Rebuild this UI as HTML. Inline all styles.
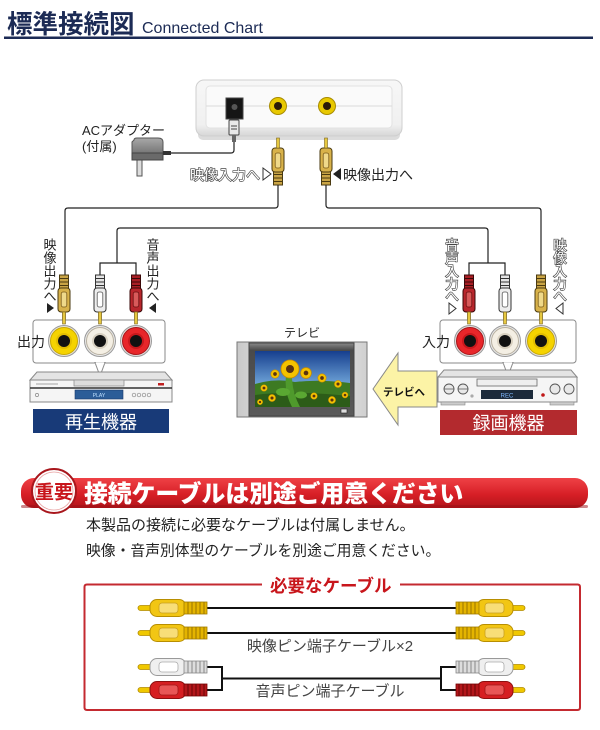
<!DOCTYPE html>
<html><head><meta charset="utf-8">
<style>
html,body{margin:0;padding:0;background:#fff;}
svg{display:block;}
text{font-family:"Liberation Sans","Noto Sans CJK JP",sans-serif;}
.o{fill:#fff;stroke:#444;stroke-width:1.3px;paint-order:stroke;}
</style></head><body>
<svg width="600" height="730" viewBox="0 0 600 730" xmlns="http://www.w3.org/2000/svg">
<defs>
 <linearGradient id="ban" x1="0" y1="0" x2="0" y2="1">
  <stop offset="0" stop-color="#ef4146"/><stop offset="0.55" stop-color="#d71f26"/><stop offset="1" stop-color="#b3141a"/>
 </linearGradient>
 <linearGradient id="sky" x1="0" y1="0" x2="0" y2="1">
  <stop offset="0" stop-color="#163f8e"/><stop offset="0.6" stop-color="#6fa4d8"/><stop offset="1" stop-color="#9cc3e6"/>
 </linearGradient>
 <linearGradient id="tvs" x1="0" y1="0" x2="1" y2="0">
  <stop offset="0" stop-color="#c9c9c9"/><stop offset="0.5" stop-color="#f2f2f2"/><stop offset="1" stop-color="#d0d0d0"/>
 </linearGradient>
 <linearGradient id="bez" x1="0" y1="0" x2="0" y2="1">
  <stop offset="0" stop-color="#8a8a8a"/><stop offset="0.1" stop-color="#4a4a4a"/><stop offset="1" stop-color="#5a5a5a"/>
 </linearGradient>
 <linearGradient id="box" x1="0" y1="0" x2="0" y2="1">
  <stop offset="0" stop-color="#f7f7f7"/><stop offset="0.8" stop-color="#f0f0f0"/><stop offset="1" stop-color="#d6d6d6"/>
 </linearGradient>
 <linearGradient id="adp" x1="0" y1="0" x2="0" y2="1">
  <stop offset="0" stop-color="#a8a8a8"/><stop offset="0.6" stop-color="#7d7d7d"/><stop offset="1" stop-color="#5a5a5a"/>
 </linearGradient>

 <g id="dpY">
  <rect x="-4.5" y="0" width="9" height="14" fill="#c9a445" stroke="#4a3a10"/>
  <path d="M-4.5 3.5h9M-4.5 7h9M-4.5 10.5h9" stroke="#4a3a10"/>
  <rect x="-6" y="13" width="12" height="24" rx="3" fill="#d8b24a" stroke="#4a3a10"/>
  <rect x="-2.8" y="17" width="5.6" height="15" rx="2" fill="#efd98a" stroke="#7a5a18" stroke-width="0.8"/>
  <rect x="-1.5" y="37" width="3" height="10" fill="#e6c840" stroke="#7a6420" stroke-width="0.6"/>
 </g>
 <g id="dpW">
  <rect x="-4.5" y="0" width="9" height="14" fill="#e4e4e4" stroke="#333"/>
  <path d="M-4.5 3.5h9M-4.5 7h9M-4.5 10.5h9" stroke="#333"/>
  <rect x="-6" y="13" width="12" height="24" rx="3" fill="#ededed" stroke="#333"/>
  <rect x="-2.8" y="17" width="5.6" height="15" rx="2" fill="#fff" stroke="#555" stroke-width="0.8"/>
  <rect x="-1.5" y="37" width="3" height="10" fill="#e6c840" stroke="#7a6420" stroke-width="0.6"/>
 </g>
 <g id="dpR">
  <rect x="-4.5" y="0" width="9" height="14" fill="#a81e24" stroke="#3a0808"/>
  <path d="M-4.5 3.5h9M-4.5 7h9M-4.5 10.5h9" stroke="#3a0808"/>
  <rect x="-6" y="13" width="12" height="24" rx="3" fill="#b8262c" stroke="#3a0808"/>
  <rect x="-2.8" y="17" width="5.6" height="15" rx="2" fill="#d85a5a" stroke="#6a1010" stroke-width="0.8"/>
  <rect x="-1.5" y="37" width="3" height="10" fill="#e6c840" stroke="#7a6420" stroke-width="0.6"/>
 </g>

 <g id="jY">
  <circle r="15.5" fill="#e6e2d6" stroke="#9a9a9a"/>
  <circle r="13.5" fill="#f5d300" stroke="#c9a800"/>
  <circle r="8" fill="#e2bd00"/>
  <circle r="6" fill="#111"/>
 </g>
 <g id="jW">
  <circle r="15.5" fill="#e8e8e8" stroke="#9a9a9a"/>
  <circle r="13.5" fill="#f4efe4" stroke="#b8b0a0"/>
  <circle r="8" fill="#d8d0c0"/>
  <circle r="6" fill="#111"/>
 </g>
 <g id="jR">
  <circle r="15.5" fill="#e2dcdc" stroke="#9a9a9a"/>
  <circle r="13.5" fill="#e8262a" stroke="#a81418"/>
  <circle r="8" fill="#c8181c"/>
  <circle r="6" fill="#111"/>
 </g>

 <g id="cpY">
  <rect x="0" y="-2.5" width="15" height="5" rx="2.5" fill="#f0c800" stroke="#b08a00" stroke-width="0.8"/>
  <rect x="12" y="-8.5" width="36" height="17" rx="7" fill="#f2c614" stroke="#b88e00"/>
  <rect x="21" y="-5" width="19" height="10" rx="3" fill="#f8de78" stroke="#c9a020" stroke-width="0.8"/>
  <rect x="46" y="-6" width="23" height="12" fill="#e4b400" stroke="#a07c00" stroke-width="0.8"/>
  <path d="M50 -6v12M54 -6v12M58 -6v12M62 -6v12M66 -6v12" stroke="#9a7400" stroke-width="1"/>
 </g>
 <g id="cpW">
  <rect x="0" y="-2.5" width="15" height="5" rx="2.5" fill="#f0c800" stroke="#b08a00" stroke-width="0.8"/>
  <rect x="12" y="-8.5" width="36" height="17" rx="7" fill="#efefef" stroke="#999"/>
  <rect x="21" y="-5" width="19" height="10" rx="3" fill="#fff" stroke="#aaa" stroke-width="0.8"/>
  <rect x="46" y="-6" width="23" height="12" fill="#ddd" stroke="#888" stroke-width="0.8"/>
  <path d="M50 -6v12M54 -6v12M58 -6v12M62 -6v12M66 -6v12" stroke="#888" stroke-width="1"/>
 </g>
 <g id="cpR">
  <rect x="0" y="-2.5" width="15" height="5" rx="2.5" fill="#f0c800" stroke="#b08a00" stroke-width="0.8"/>
  <rect x="12" y="-8.5" width="36" height="17" rx="7" fill="#d61f22" stroke="#8c1010"/>
  <rect x="21" y="-5" width="19" height="10" rx="3" fill="#e85656" stroke="#a01818" stroke-width="0.8"/>
  <rect x="46" y="-6" width="23" height="12" fill="#b3171b" stroke="#700" stroke-width="0.8"/>
  <path d="M50 -6v12M54 -6v12M58 -6v12M62 -6v12M66 -6v12" stroke="#6a0606" stroke-width="1"/>
 </g>
 <g id="sf">
  <circle r="6" fill="#f4c200" stroke="#c98a00" stroke-width="0.8"/>
  <circle r="2.6" fill="#5a3210"/>
 </g>
</defs>

<text x="7" y="33" font-size="25.5" font-weight="700" fill="#1c2b55">標準接続図</text>
<text x="142" y="33" font-size="16" fill="#1c2b55">Connected Chart</text>
<rect x="4" y="36.5" width="589" height="2.5" fill="#1c2b55"/>

<rect x="198" y="128" width="202" height="12" rx="5" fill="#dcdcdc"/>
<rect x="196" y="80" width="206" height="56" rx="8" fill="url(#box)" stroke="#cfcfcf"/>
<rect x="206" y="86" width="186" height="42" rx="4" fill="#fafafa" stroke="#e2e2e2"/>
<line x1="206" y1="106" x2="392" y2="106" stroke="#dadada"/>
<rect x="226" y="98" width="17" height="21" fill="#151515" stroke="#444"/>
<circle cx="234.5" cy="107" r="3" fill="#555"/>
<circle cx="278" cy="106" r="8.5" fill="#e8c800" stroke="#a88c00"/>
<circle cx="278" cy="106" r="4" fill="#2a1a08"/>
<circle cx="327" cy="106" r="8.5" fill="#e8c800" stroke="#a88c00"/>
<circle cx="327" cy="106" r="4" fill="#2a1a08"/>
<rect x="229" y="120" width="10" height="15" rx="1" fill="#e8e8e8" stroke="#444"/>
<path d="M231 126h6M231 129h6" stroke="#444"/>
<rect x="232" y="135" width="4" height="7" fill="#666"/>
<path d="M234 142 V150 Q234 153 231 153 H168" fill="none" stroke="#222" stroke-width="1.2"/>
<rect x="137" y="158" width="5" height="18" fill="#ddd" stroke="#555"/>
<path d="M134 140 Q134 138 137 138 H158 Q163 138 163 142 V160 H132 V142 Z" fill="url(#adp)" stroke="#555"/>
<rect x="132" y="153" width="31" height="7" fill="#6a6a6a" stroke="#444"/>
<rect x="163" y="151" width="8" height="4" fill="#333"/>
<text x="82" y="135" font-size="13" fill="#222">ACアダプター</text>
<text x="82" y="151" font-size="13" fill="#222">(付属)</text>

<use href="#dpY" transform="translate(278,185) scale(1,-1)"/>
<use href="#dpY" transform="translate(326,185) scale(1,-1)"/>
<text x="190" y="180" font-size="14" class="o">映像入力へ</text>
<polygon points="263,168 271,174 263,180" fill="#fff" stroke="#333"/>
<polygon points="341,168 333,174 341,180" fill="#222"/>
<text x="343" y="180" font-size="14" fill="#222">映像出力へ</text>

<g fill="none" stroke="#222" stroke-width="1.2">
 <path d="M278 185 V205 Q278 208 275 208 H68 Q65 208 65 211 V275"/>
 <path d="M326 185 V205 Q326 208 329 208 H538 Q541 208 541 211 V275"/>
 <path d="M100 275 V263 H136 V275"/>
 <path d="M117 263 V231 Q117 228 120 228 H485 Q488 228 488 231 V263"/>
 <path d="M469 275 V263 H505 V275"/>
</g>

<use href="#dpY" transform="translate(64,275)"/>
<use href="#dpW" transform="translate(100,275)"/>
<use href="#dpR" transform="translate(136,275)"/>
<use href="#dpR" transform="translate(469,275)"/>
<use href="#dpW" transform="translate(505,275)"/>
<use href="#dpY" transform="translate(541,275)"/>

<g font-size="13" fill="#222" text-anchor="middle">
 <text x="50" y="249.5">映</text><text x="50" y="262.5">像</text><text x="50" y="275.5">出</text><text x="50" y="288.5">力</text><text x="50" y="301">へ</text>
 <text x="153" y="249.5">音</text><text x="153" y="262.5">声</text><text x="153" y="275.5">出</text><text x="153" y="288.5">力</text><text x="153" y="301">へ</text>
</g>
<polygon points="47,303 54,308 47,313" fill="#222"/>
<polygon points="156,303 149,308 156,313" fill="#222"/>
<g font-size="13.5" text-anchor="middle">
 <text x="452" y="250" class="o">音</text><text x="452" y="263" class="o">声</text><text x="452" y="276" class="o">入</text><text x="452" y="289" class="o">力</text><text x="452" y="301" class="o">へ</text>
 <text x="560" y="250" class="o">映</text><text x="560" y="263" class="o">像</text><text x="560" y="276" class="o">入</text><text x="560" y="289" class="o">力</text><text x="560" y="301" class="o">へ</text>
</g>
<polygon points="449,303 456,308.5 449,314" fill="#fff" stroke="#333"/>
<polygon points="563,303 556,308.5 563,314" fill="#fff" stroke="#333"/>

<rect x="33" y="320" width="132" height="43" rx="3" fill="#fff" stroke="#8a8a8a"/>
<polygon points="95,362.5 100,376 105,362.5" fill="#fff" stroke="#8a8a8a"/>
<line x1="95.8" y1="363" x2="104.2" y2="363" stroke="#fff" stroke-width="1.5"/>
<rect x="440" y="320" width="136" height="43" rx="3" fill="#fff" stroke="#8a8a8a"/>
<polygon points="503,362.5 508,376 513,362.5" fill="#fff" stroke="#8a8a8a"/>
<line x1="503.8" y1="363" x2="512.2" y2="363" stroke="#fff" stroke-width="1.5"/>
<g fill="#e6c840" stroke="#7a6420" stroke-width="0.6">
 <rect x="62.5" y="312" width="3" height="12"/><rect x="98.5" y="312" width="3" height="12"/><rect x="134.5" y="312" width="3" height="12"/>
 <rect x="467.5" y="312" width="3" height="12"/><rect x="503.5" y="312" width="3" height="12"/><rect x="539.5" y="312" width="3" height="12"/>
</g>
<use href="#jY" transform="translate(64,341)"/>
<use href="#jW" transform="translate(100,341)"/>
<use href="#jR" transform="translate(136,341)"/>
<use href="#jR" transform="translate(470,341)"/>
<use href="#jW" transform="translate(505,341)"/>
<use href="#jY" transform="translate(541,341)"/>
<text x="17" y="347" font-size="14" fill="#222">出力</text>
<text x="422" y="347" font-size="14" fill="#222">入力</text>

<polygon points="37,372 165,372 172,380 30,380" fill="#e4e4e4" stroke="#888"/>
<rect x="30" y="380" width="142" height="22" fill="#f5f5f5" stroke="#888"/>
<line x1="30" y1="388" x2="172" y2="388" stroke="#333" stroke-width="1.5"/>
<rect x="74" y="380" width="50" height="6" fill="#ddd" stroke="#888" stroke-width="0.7"/>
<rect x="75" y="390" width="48" height="9" fill="#2c5d98" stroke="#1a3a6a" stroke-width="0.6"/>
<text x="99" y="397" font-size="5" fill="#bfe0ff" text-anchor="middle">PLAY</text>
<circle cx="37" cy="395" r="1.6" fill="none" stroke="#888" stroke-width="0.7"/>
<g fill="none" stroke="#888" stroke-width="0.7"><circle cx="134" cy="395" r="1.8"/><circle cx="139" cy="395" r="1.8"/><circle cx="144" cy="395" r="1.8"/><circle cx="149" cy="395" r="1.8"/></g>
<rect x="158" y="383" width="6" height="2.5" fill="#c02020"/>
<line x1="36" y1="384" x2="58" y2="384" stroke="#888" stroke-width="0.8"/>
<rect x="33" y="409" width="136" height="24" fill="#183a78"/>
<text x="101" y="428.5" font-size="18" fill="#fff" text-anchor="middle">再生機器</text>

<polygon points="444,370 571,370 577,377 438,377" fill="#e4e4e4" stroke="#888"/>
<rect x="438" y="377" width="139" height="25" fill="#f5f5f5" stroke="#888"/>
<rect x="441" y="402" width="24" height="3" fill="#ccc" stroke="#888" stroke-width="0.6"/>
<rect x="550" y="402" width="24" height="3" fill="#ccc" stroke="#888" stroke-width="0.6"/>
<g fill="#e8e8e8" stroke="#555" stroke-width="0.9">
 <circle cx="449" cy="389" r="5"/><circle cx="463" cy="389" r="5"/>
 <circle cx="555" cy="389" r="5"/><circle cx="569" cy="389" r="5"/>
</g>
<path d="M444 389h10M458 389h10" stroke="#555" stroke-width="0.8"/>
<rect x="477" y="379" width="60" height="7" fill="#eee" stroke="#666" stroke-width="0.8"/>
<rect x="481" y="390" width="52" height="9" fill="#1c2a3a"/>
<text x="507" y="397.5" font-size="6" fill="#7fb8ff" text-anchor="middle">REC</text>
<circle cx="543" cy="395" r="1.8" fill="#c01818"/>
<circle cx="472" cy="396" r="1.6" fill="#aaa"/>
<rect x="440" y="410" width="137" height="25" fill="#b32a2e"/>
<text x="508.5" y="429.5" font-size="18" fill="#fff" text-anchor="middle">録画機器</text>

<text x="302" y="337" font-size="12" fill="#222" text-anchor="middle">テレビ</text>
<rect x="237" y="342" width="130" height="75" fill="url(#tvs)" stroke="#777"/>
<rect x="249" y="343" width="105" height="73" fill="url(#bez)" stroke="#444"/>
<rect x="255" y="351" width="95" height="56" fill="url(#sky)"/>
<path d="M255 384 Q275 378 295 382 Q320 379 350 383 V407 H255 Z" fill="#3d7a22"/>
<path d="M255 395 Q290 390 350 396 V407 H255 Z" fill="#2c5c18"/>
<path d="M286 376 Q284 392 292 407 H300 Q292 392 292 376 Z" fill="#4f9a2c"/>
<ellipse cx="283" cy="392" rx="7" ry="4" fill="#5aa832"/>
<ellipse cx="301" cy="395" rx="6" ry="3.5" fill="#5aa832"/>
<g>
 <circle cx="290" cy="369" r="9" fill="#f4c200" stroke="#c98a00" stroke-width="0.8"/>
 <circle cx="290" cy="369" r="4" fill="#5a3210"/>
 <use href="#sf" transform="translate(306,373) scale(0.9)"/>
 <use href="#sf" transform="translate(275,374) scale(0.7)"/>
 <use href="#sf" transform="translate(322,378) scale(0.7)"/>
 <use href="#sf" transform="translate(338,384) scale(0.6)"/>
 <use href="#sf" transform="translate(264,388) scale(0.55)"/>
 <use href="#sf" transform="translate(272,398) scale(0.6)"/>
 <use href="#sf" transform="translate(314,396) scale(0.55)"/>
 <use href="#sf" transform="translate(332,400) scale(0.6)"/>
 <use href="#sf" transform="translate(345,395) scale(0.5)"/>
 <use href="#sf" transform="translate(260,402) scale(0.45)"/>
</g>
<rect x="341" y="409" width="6" height="4" fill="#ddd" stroke="#222" stroke-width="0.6"/>

<polygon points="373,389 398,353 398,371 437,371 437,407 398,407 398,425" fill="#fcf3a6" stroke="#888"/>
<text x="404" y="395.5" font-size="10.5" font-weight="700" fill="#111" text-anchor="middle">テレビへ</text>

<rect x="21" y="478" width="567" height="30" rx="13" fill="url(#ban)"/>
<rect x="21" y="505" width="567" height="3" rx="1.5" fill="#9a1015" opacity="0.5"/>
<circle cx="54" cy="491" r="22" fill="#fff" stroke="#a8161c" stroke-width="2"/>
<circle cx="54" cy="491" r="19" fill="none" stroke="#e8a0a0" stroke-width="0.8"/>
<text x="54" y="498.5" font-size="19" font-weight="700" fill="#c8161c" text-anchor="middle">重要</text>
<text x="84" y="502" font-size="23.8" font-weight="900" fill="#fff">接続ケーブルは別途ご用意ください</text>

<text x="86" y="530" font-size="15" fill="#222">本製品の接続に必要なケーブルは付属しません。</text>
<text x="86" y="555.5" font-size="14.8" fill="#222">映像・音声別体型のケーブルを別途ご用意ください。</text>

<path d="M262 584.5 H87 Q84.5 584.5 84.5 587 V707.5 Q84.5 710 87 710 H577.5 Q580 710 580 707.5 V587 Q580 584.5 577.5 584.5 H400" fill="none" stroke="#c42a30" stroke-width="2"/>
<text x="270" y="592" font-size="17.5" font-weight="700" fill="#c8161c">必要なケーブル</text>

<g stroke="#111" stroke-width="2" fill="none">
 <path d="M205 608 H460"/>
 <path d="M205 633 H460"/>
 <path d="M205 667 H222 V690 H205 M222 678.5 H441 M458 667 H441 V690 H458"/>
</g>
<use href="#cpY" transform="translate(138,608)"/>
<use href="#cpY" transform="translate(138,633)"/>
<use href="#cpW" transform="translate(138,667)"/>
<use href="#cpR" transform="translate(138,690)"/>
<use href="#cpY" transform="translate(525,608) scale(-1,1)"/>
<use href="#cpY" transform="translate(525,633) scale(-1,1)"/>
<use href="#cpW" transform="translate(525,667) scale(-1,1)"/>
<use href="#cpR" transform="translate(525,690) scale(-1,1)"/>
<text x="330" y="651" font-size="15" fill="#444" text-anchor="middle">映像ピン端子ケーブル×2</text>
<text x="330" y="696" font-size="15" fill="#444" text-anchor="middle">音声ピン端子ケーブル</text>
</svg>
</body></html>
